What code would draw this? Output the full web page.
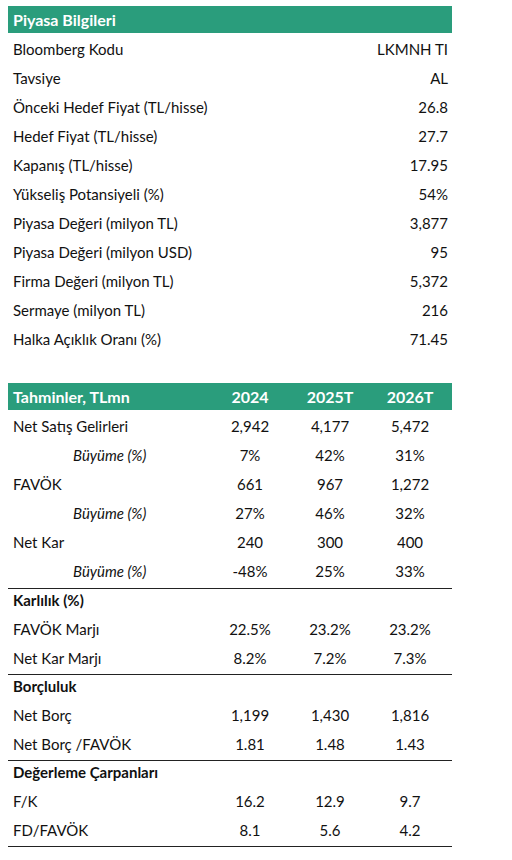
<!DOCTYPE html>
<html><head><meta charset="utf-8">
<script src="https://cdn.jsdelivr.net/npm/chart.js"></script>
<style>
body{margin:0;width:512px;height:860px;background:#fff;font-family:Lato,"Open Sans",sans-serif;color:#111;font-size:15px;position:relative}
.row{position:absolute;left:8px;width:444px;height:29px;line-height:29px}
.hdr{background:#2a9d7c;color:#fff;font-weight:bold;font-size:16px;height:27px;line-height:27px}
.l{position:absolute;left:5px}
.r{position:absolute;right:4px}
.c{position:absolute;width:80px;text-align:center}
.it{font-style:italic}
.b{font-weight:bold}
.line{position:absolute;left:8px;width:444px;border-top:1px solid #222}
</style></head><body>
<div id="root"></div>
<script>
const marketLabels = ['Bloomberg Kodu','Tavsiye','Önceki Hedef Fiyat (TL/hisse)','Hedef Fiyat (TL/hisse)','Kapanış (TL/hisse)','Yükseliş Potansiyeli (%)','Piyasa Değeri (milyon TL)','Piyasa Değeri (milyon USD)','Firma Değeri (milyon TL)','Sermaye (milyon TL)','Halka Açıklık Oranı (%)'];
const marketValues = ['LKMNH TI','AL','26.8','27.7','17.95','54%','3,877','95','5,372','216','71.45'];
const years = ['2024','2025T','2026T'];
const forecastLabels = ['Net Satış Gelirleri','Büyüme (%)','FAVÖK','Büyüme (%)','Net Kar','Büyüme (%)'];
const forecastValues = [['2,942','4,177','5,472'],['7%','42%','31%'],['661','967','1,272'],['27%','46%','32%'],['240','300','400'],['-48%','25%','33%']];
const sections = [
  {title:'Karlılık (%)', labels:['FAVÖK Marjı','Net Kar Marjı'], values:[['22.5%','23.2%','23.2%'],['8.2%','7.2%','7.3%']]},
  {title:'Borçluluk', labels:['Net Borç','Net Borç /FAVÖK'], values:[['1,199','1,430','1,816'],['1.81','1.48','1.43']]},
  {title:'Değerleme Çarpanları', labels:['F/K','FD/FAVÖK'], values:[['16.2','12.9','9.7'],['8.1','5.6','4.2']]}
];
const colX = [202, 282, 362];
const root = document.getElementById('root');
function add(html){root.insertAdjacentHTML('beforeend', html);}
function cells(vals){return vals.map((v,i)=>`<span class="c" style="left:${colX[i]}px">${v}</span>`).join('');}

add(`<div class="row hdr" style="top:6px"><span class="l">Piyasa Bilgileri</span></div>`);
marketLabels.forEach((lab,i)=>{
  const top = 35 + i*29;
  add(`<div class="row" style="top:${top}px"><span class="l">${lab}</span><span class="r">${marketValues[i]}</span></div>`);
});
add(`<div class="row hdr" style="top:383px"><span class="l">Tahminler, TLmn</span>${cells(years)}</div>`);
let y = 412;
forecastLabels.forEach((lab,i)=>{
  const growth = i%2===1;
  add(`<div class="row" style="top:${y}px"><span class="l ${growth?'it':''}" style="${growth?'left:65px':''}">${lab}</span>${cells(forecastValues[i])}</div>`);
  y += 29;
});
sections.forEach(s=>{
  add(`<div class="line" style="top:${y+2}px"></div>`);
  add(`<div class="row" style="top:${y}px"><span class="l b">${s.title}</span></div>`);
  y += 29;
  s.labels.forEach((lab,i)=>{
    add(`<div class="row" style="top:${y}px"><span class="l">${lab}</span>${cells(s.values[i])}</div>`);
    y += 28.5;
  });
});
add(`<div class="line" style="top:${y+2}px"></div>`);
</script>
</body></html>
